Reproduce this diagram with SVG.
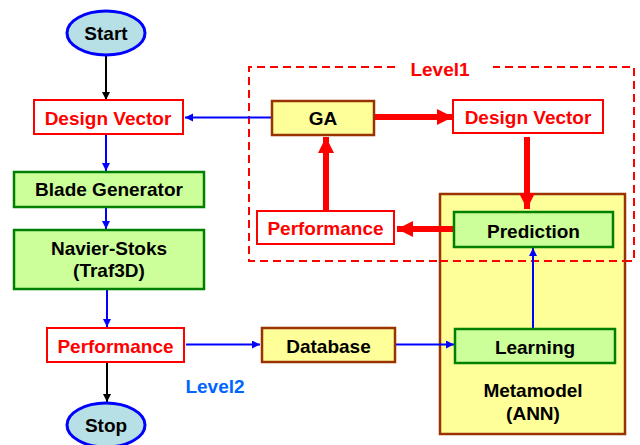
<svg xmlns="http://www.w3.org/2000/svg" width="640" height="445" viewBox="0 0 640 445">
<style>
text{font-family:"Liberation Sans",Arial,sans-serif;font-weight:bold;font-size:19px;text-anchor:middle}
.red{fill:#ff0000}
.blk{fill:#000}
.rbox{fill:#fff;stroke:#ff0000;stroke-width:2}
.gbox{fill:#ccff99;stroke:#008000;stroke-width:2.5}
.ybox{fill:#ffff99;stroke:#993300;stroke-width:2.5}
.oval{fill:#b7e0e6;stroke:#0000ff;stroke-width:3}
.bl{stroke:#0000ff;stroke-width:2;fill:none}
.bk{stroke:#000;stroke-width:2;fill:none}
.rd{stroke:#ff0000;stroke-width:6;fill:none}
</style>
<defs>
<marker id="ab" markerUnits="userSpaceOnUse" markerWidth="10" markerHeight="10" refX="8" refY="4" orient="auto"><path d="M0,0 L8,4 L0,8 z" fill="#0000ff"/></marker>
<marker id="ak" markerUnits="userSpaceOnUse" markerWidth="10" markerHeight="10" refX="8" refY="4" orient="auto"><path d="M0,0 L8,4 L0,8 z" fill="#000"/></marker>
<marker id="ar" markerUnits="userSpaceOnUse" markerWidth="18" markerHeight="18" refX="16" refY="8" orient="auto"><path d="M0,0 L16,8 L0,16 z" fill="#ff0000"/></marker>
</defs>
<g id="level1">
<path d="M395,67 H249 V261 H634 V67 H493" fill="none" stroke="#ff0000" stroke-width="2" stroke-dasharray="8,5"/>
<text x="440" y="76" class="red">Level1</text>
</g>
<g id="metamodel">
<rect x="440" y="194" width="185" height="240" class="ybox"/>
<text x="533" y="397" class="blk">Metamodel</text>
<text x="533" y="420" class="blk">(ANN)</text>
</g>
<g id="level1-dashed-bottom"><path d="M440,261 H625" stroke="#ff0000" stroke-width="2" stroke-dasharray="8,5" fill="none"/></g>
<g id="connectors">
<line x1="106" y1="55" x2="106" y2="100" class="bk" marker-end="url(#ak)"/>
<line x1="272" y1="117.5" x2="185" y2="117.5" class="bl" stroke-width="1.5" marker-end="url(#ab)"/>
<line x1="106" y1="134" x2="106" y2="171" class="bl" marker-end="url(#ab)"/>
<line x1="106" y1="207" x2="106" y2="229" class="bl" marker-end="url(#ab)"/>
<line x1="107" y1="289" x2="107" y2="327" class="bl" marker-end="url(#ab)"/>
<line x1="107" y1="362" x2="107" y2="402" class="bk" marker-end="url(#ak)"/>
<line x1="186" y1="344.5" x2="260" y2="344.5" class="bl" marker-end="url(#ab)"/>
<line x1="396" y1="344.5" x2="454" y2="344.5" class="bl" marker-end="url(#ab)"/>
<line x1="533" y1="328" x2="533" y2="248" class="bl" stroke-width="1.5" marker-end="url(#ab)"/>
<line x1="375" y1="117" x2="453" y2="117" class="rd" marker-end="url(#ar)"/>
<line x1="527" y1="137" x2="527" y2="209" class="rd" marker-end="url(#ar)"/>
<line x1="453" y1="229" x2="397" y2="229" class="rd" marker-end="url(#ar)"/>
<line x1="326" y1="211" x2="326" y2="137" class="rd" marker-end="url(#ar)"/>
</g>
<g id="start"><ellipse cx="106" cy="33" rx="39" ry="22" class="oval"/><text x="106" y="40" class="blk">Start</text></g>
<g id="dv1"><rect x="34" y="100" width="149" height="34" class="rbox"/><text x="108" y="125" class="red">Design Vector</text></g>
<g id="blade"><rect x="14" y="172" width="190" height="35" class="gbox"/><text x="109" y="196" class="blk">Blade Generator</text></g>
<g id="navier"><rect x="14" y="230" width="190" height="59" class="gbox"/><text x="109" y="255" class="blk">Navier-Stoks</text><text x="109" y="277" class="blk">(Traf3D)</text></g>
<g id="perf1"><rect x="47" y="328" width="137" height="34" class="rbox"/><text x="115.5" y="353" class="red">Performance</text></g>
<g id="stop"><ellipse cx="106" cy="425" rx="39" ry="22" class="oval"/><text x="106" y="432" class="blk">Stop</text></g>
<g id="level2"><text x="215" y="393" fill="#0066ff">Level2</text></g>
<g id="database"><rect x="262" y="328" width="133" height="34" class="ybox"/><text x="328.5" y="353" class="blk">Database</text></g>
<g id="learning"><rect x="455" y="329" width="160" height="34" class="gbox"/><text x="535" y="354" class="blk">Learning</text></g>
<g id="prediction"><rect x="454" y="212" width="159" height="35" class="gbox"/><text x="533.5" y="238" class="blk">Prediction</text></g>
<g id="ga"><rect x="272" y="101" width="102" height="34" class="ybox"/><text x="323" y="125" class="blk">GA</text></g>
<g id="dv2"><rect x="453" y="100" width="150" height="33" class="rbox" stroke-width="1.5"/><text x="528" y="124" class="red">Design Vector</text></g>
<g id="perf2"><rect x="257" y="211" width="137" height="33" class="rbox" stroke-width="1.5"/><text x="325.5" y="235" class="red">Performance</text></g>
</svg>
